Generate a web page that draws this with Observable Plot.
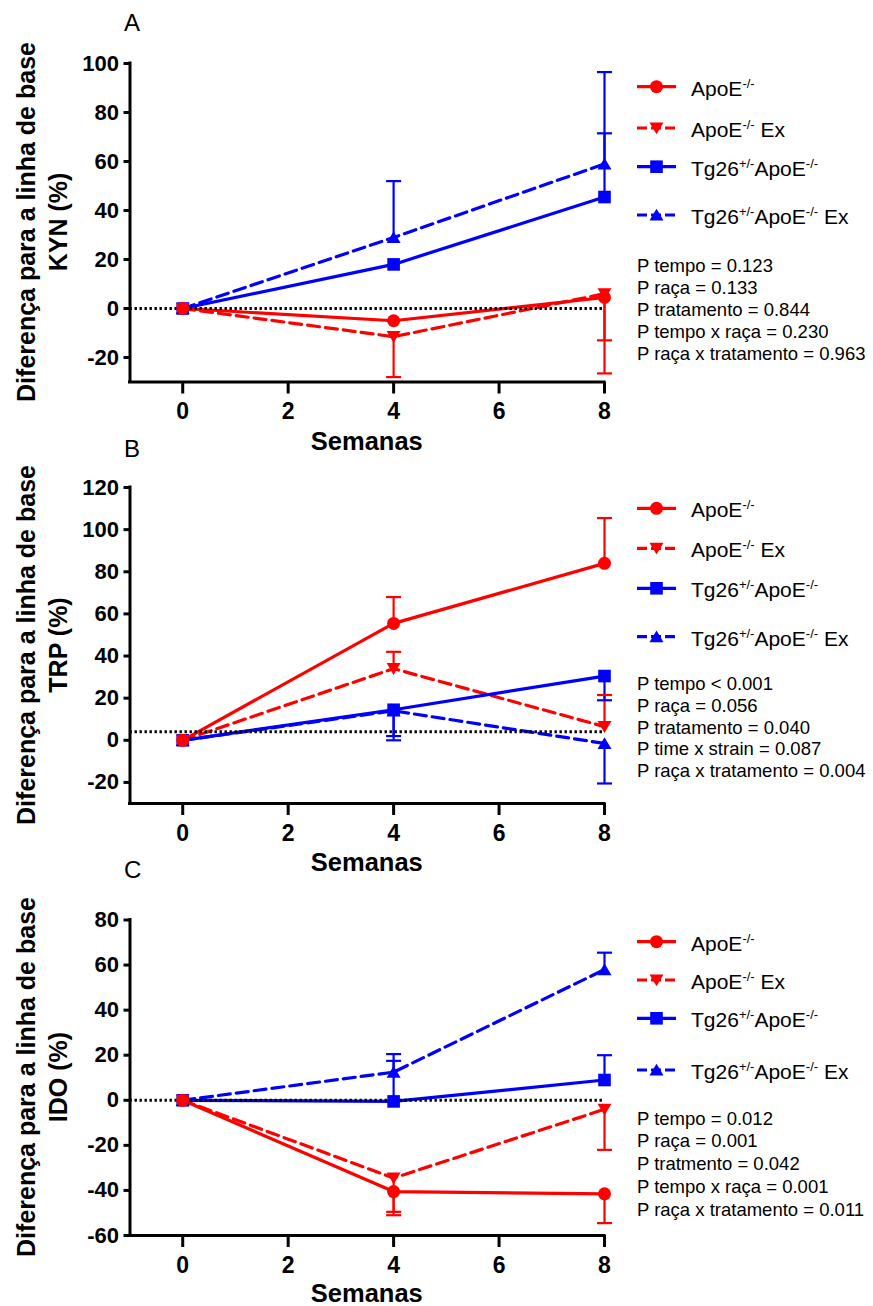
<!DOCTYPE html>
<html><head><meta charset="utf-8">
<script src="https://cdn.jsdelivr.net/npm/d3@7"></script>
<script src="https://cdn.jsdelivr.net/npm/@observablehq/plot@0.6"></script>
<style>
html,body{margin:0;padding:0;background:#fff;}
#chart{position:relative;width:873px;height:1306px;overflow:hidden;background:#fff;}
#chart svg{position:absolute;left:0;overflow:visible;background:transparent;}
</style></head><body><div id="chart"></div>
<script>
// ---------- data ----------
const weeks = [0, 4, 8];
const groups = ["ApoE-/-", "ApoE-/- Ex", "Tg26+/-ApoE-/-", "Tg26+/-ApoE-/- Ex"];
const groupColors = ["#ff0000", "#ff0000", "#0000ff", "#0000ff"];
const groupDashed = [false, true, false, true];

// KYN (% change from baseline), rows follow groups, columns follow weeks
const kynMeans = [[0, -5, 4.5], [0, -11.5, 6], [0, 18, 45.5], [0, 29, 59]];
const kynErrors = [[0, 0, -17.5], [0, -16.5, -32.5], [0, 0, 26], [0, 23, 37.5]];
const kynTicks = [-20, 0, 20, 40, 60, 80, 100];
const kynDomain = [-30, 100];
const kynBaseline = [0];
const kynP = ["P tempo = 0.123", "P raça = 0.133", "P tratamento = 0.844", "P tempo x raça = 0.230", "P raça x tratamento = 0.963"];

// TRP
const trpMeans = [[0, 55.5, 84], [0, 34, 6.5], [0, 14.5, 30.5], [0, 14, -1.5]];
const trpErrors = [[0, 12.5, 21.5], [0, 8, 15], [0, -12.5, -11.5], [0, -14, -19]];
const trpTicks = [-20, 0, 20, 40, 60, 80, 100, 120];
const trpDomain = [-30, 120];
const trpBaseline = [4];
const trpP = ["P tempo < 0.001", "P raça = 0.056", "P tratamento = 0.040", "P time x strain = 0.087", "P raça x tratamento = 0.004"];

// IDO
const idoMeans = [[0, -40.5, -41.5], [0, -34.5, -4], [0, -0.5, 9], [0, 12.5, 58]];
const idoErrors = [[0, -10.5, -13], [0, -15, -18], [0, 18, 11], [0, 8, 7.5]];
const idoTicks = [-60, -40, -20, 0, 20, 40, 60, 80];
const idoDomain = [-60, 80];
const idoBaseline = [0];
const idoP = ["P tempo = 0.012", "P raça = 0.001", "P tratmento = 0.042", "P tempo x raça = 0.001", "P raça x tratamento = 0.011"];

const xTicks = [0, 2, 4, 6, 8];
const xDomain = [-1, 8];
const xLabel = "Semanas";
const yLabelLine1 = "Diferença para a linha de base";

// legend labels: [text, isSuperscript]
const legendParts = [
  [["ApoE", 0], ["-/-", 1]],
  [["ApoE", 0], ["-/-", 1], [" Ex", 0]],
  [["Tg26", 0], ["+/-", 1], ["ApoE", 0], ["-/-", 1]],
  [["Tg26", 0], ["+/-", 1], ["ApoE", 0], ["-/-", 1], [" Ex", 0]]
];

// ---------- symbols ----------
const rad = size => Math.sqrt(size / Math.PI);
const triDown = {draw(c, s) { const r = rad(s); c.moveTo(-r, -0.8 * r); c.lineTo(r, -0.8 * r); c.lineTo(0, 0.9 * r); c.closePath(); }};
const triUp = {draw(c, s) { const r = rad(s); c.moveTo(-r, 0.8 * r); c.lineTo(r, 0.8 * r); c.lineTo(0, -0.9 * r); c.closePath(); }};
const squareSym = {draw(c, s) { const h = 0.9 * rad(s); c.rect(-h, -h, 2 * h, 2 * h); }};
const circleSym = {draw(c, s) { const r = rad(s); c.moveTo(r, 0); c.arc(0, 0, r, 0, 2 * Math.PI); }};
const capSym = {draw(c, s) { const r = rad(s); c.moveTo(-r, 0); c.lineTo(r, 0); }};
const groupSymbols = [circleSym, triDown, squareSym, triUp];
const groupR = [6.5, 7, 7, 7];

const FONT = "'Liberation Sans', Arial, Helvetica, sans-serif";

const panels = [
  {means: kynMeans, errors: kynErrors, ticks: kynTicks, domain: kynDomain, baseline: kynBaseline, pvals: kynP,
   line2: "KYN (%)", letter: "A", top: 0, height: 425, mt: 63, mb: 43.5,
   letterY: 31, titleCY: 222, semanasY: 450, legendY: [86.7, 128, 166.7, 215], pY: 271.5, pStep: 22},
  {means: trpMeans, errors: trpErrors, ticks: trpTicks, domain: trpDomain, baseline: trpBaseline, pvals: trpP,
   line2: "TRP (%)", letter: "B", top: 425, height: 430, mt: 62, mb: 52,
   letterY: 457, titleCY: 645, semanasY: 871, legendY: [508.3, 548.3, 588.3, 636.7], pY: 690, pStep: 21.8},
  {means: idoMeans, errors: idoErrors, ticks: idoTicks, domain: idoDomain, baseline: idoBaseline, pvals: idoP,
   line2: "IDO (%)", letter: "C", top: 855, height: 451, mt: 64.5, mb: 71,
   letterY: 878, titleCY: 1077, semanasY: 1302, legendY: [941.7, 980, 1018.3, 1070], pY: 1124.5, pStep: 22.8}
];

const chart = document.getElementById("chart");

for (const p of panels) {
  const rows = [];
  groups.forEach((g, gi) => weeks.forEach((w, wi) => rows.push({
    gi, group: g, week: w, mean: p.means[gi][wi], err: p.errors[gi][wi], end: p.means[gi][wi] + p.errors[gi][wi]
  })));
  const errRows = rows.filter(d => d.err !== 0);

  const marks = [];
  // error bars
  marks.push(Plot.ruleX(errRows, {x: "week", y1: "mean", y2: "end", stroke: d => groupColors[d.gi], strokeWidth: 2.2}));
  marks.push(Plot.dot(errRows, {x: "week", y: "end", symbol: capSym, r: 7.5, fill: "none", stroke: d => groupColors[d.gi], strokeWidth: 2.2}));
  // lines
  groups.forEach((g, gi) => {
    marks.push(Plot.line(rows.filter(d => d.gi === gi), {
      x: "week", y: "mean", stroke: groupColors[gi], strokeWidth: 3.2,
      strokeDasharray: groupDashed[gi] ? "12,6" : null
    }));
  });
  // dotted baseline
  marks.push(Plot.ruleY(p.baseline, {stroke: "black", strokeWidth: 3, strokeDasharray: "2.4,2.6"}));
  // markers (drawn so the first group ends on top)
  [3, 2, 1, 0].forEach(gi => {
    marks.push(Plot.dot(rows.filter(d => d.gi === gi), {
      x: "week", y: "mean", symbol: groupSymbols[gi], r: groupR[gi], fill: groupColors[gi], stroke: "none"
    }));
  });
  // axes
  marks.push(Plot.ruleX([xDomain[0]], {stroke: "black", strokeWidth: 3, strokeLinecap: "square"}));
  marks.push(Plot.ruleY([p.domain[0]], {stroke: "black", strokeWidth: 3, strokeLinecap: "square"}));
  marks.push(Plot.axisX({ticks: xTicks, tickSize: 12, tickPadding: 9, fontSize: 23, fontWeight: "bold",
    strokeWidth: 3, tickFormat: d => String(d), label: null}));
  marks.push(Plot.axisY({ticks: p.ticks, tickSize: 6, tickPadding: 5, fontSize: 22, fontWeight: "bold",
    strokeWidth: 3, tickFormat: d => String(d), label: null}));

  const svgEl = Plot.plot({
    width: 873, height: p.height,
    marginLeft: 129.5, marginRight: 269, marginTop: p.mt, marginBottom: p.mb,
    x: {domain: xDomain}, y: {domain: p.domain},
    style: {fontFamily: FONT, background: "transparent", overflow: "visible", color: "black"},
    marks
  });
  svgEl.style.top = p.top + "px";
  chart.appendChild(svgEl);

  const svg = d3.select(svgEl);
  const g = svg.append("g").attr("font-family", FONT).attr("fill", "black").attr("text-anchor", "start");
  const T = p.top;

  // panel letter
  g.append("text").attr("x", 124).attr("y", p.letterY - T).attr("font-size", 24).attr("font-weight", "normal").text(p.letter);
  // y title
  const yt = g.append("g").attr("font-size", 25).attr("font-weight", "bold").attr("text-anchor", "middle");
  yt.append("text").attr("transform", `translate(35,${p.titleCY - T}) rotate(-90)`).text(yLabelLine1);
  yt.append("text").attr("transform", `translate(67,${p.titleCY - T}) rotate(-90)`).text(p.line2);
  // x title
  g.append("text").attr("x", 366.8).attr("y", p.semanasY - T).attr("font-size", 25.5).attr("font-weight", "bold")
    .attr("text-anchor", "middle").text(xLabel);

  // legend
  groups.forEach((name, gi) => {
    const y = p.legendY[gi] - T;
    g.append("line").attr("x1", 637).attr("x2", 676).attr("y1", y).attr("y2", y)
      .attr("stroke", groupColors[gi]).attr("stroke-width", 3.2)
      .attr("stroke-dasharray", groupDashed[gi] ? "10,4" : null);
    g.append("path").attr("transform", `translate(656.5,${y})`)
      .attr("d", d3.symbol(groupSymbols[gi], Math.PI * groupR[gi] * groupR[gi])())
      .attr("fill", groupColors[gi]);
    const t = g.append("text").attr("x", 691).attr("y", y + 9).attr("font-size", 21).attr("font-weight", "normal")
      .attr("text-anchor", "start");
    let raised = false;
    legendParts[gi].forEach(([txt, sup]) => {
      const ts = t.append("tspan").text(txt);
      if (sup && !raised) { ts.attr("dy", -8).attr("font-size", 13); raised = true; }
      else if (sup) { ts.attr("font-size", 13); }
      else if (!sup && raised) { ts.attr("dy", 8); raised = false; }
    });
  });
  // p-values
  p.pvals.forEach((s, i) => {
    g.append("text").attr("x", 637).attr("y", p.pY + i * p.pStep - T).attr("font-size", 18.5)
      .attr("font-weight", "normal").attr("text-anchor", "start").text(s);
  });
}
</script></body></html>
